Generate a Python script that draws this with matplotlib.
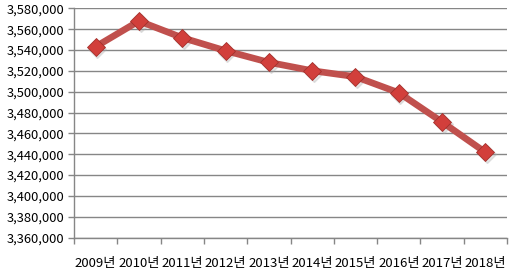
import matplotlib
matplotlib.use("Agg")
import matplotlib.pyplot as plt
from matplotlib.ticker import FuncFormatter, FixedLocator
import numpy as np

plt.rcParams['font.family'] = ['Noto Sans CJK KR', 'DejaVu Sans']

years = ["2009년", "2010년", "2011년", "2012년", "2013년", "2014년", "2015년", "2016년", "2017년", "2018년"]
values = [3543200, 3567800, 3551800, 3539300, 3528200, 3520150, 3514400, 3499050, 3471000, 3441900]
y_ticks = list(range(3360000, 3580001, 20000))

fig = plt.figure(figsize=(5.16, 2.8), dpi=100)
ax = fig.add_axes([74/516, 1-237.7/280, (507-74)/516, (237.7-8.3)/280])

x = np.arange(len(years))
# subtle marker shadow
ax.plot(x + 0.04, np.array(values) - 2000, marker='D', markersize=9, linestyle='none',
        color='#aaaaaa', alpha=0.3, zorder=2.5)
ax.plot(x, values, color='#C0504D', linewidth=4.8, solid_capstyle='round', zorder=3)
ax.plot(x, values, marker='D', markersize=9, linestyle='none',
        markerfacecolor='#D23F3B', markeredgecolor='#A3302C', markeredgewidth=0.6, zorder=4)

ax.set_xlim(-0.5, len(years) - 0.5)
ax.set_ylim(3360000, 3580000)
ax.set_yticks(y_ticks)
ax.yaxis.set_major_formatter(FuncFormatter(lambda v, p: f"{int(v):,}"))
ax.grid(axis='y', color='#868686', linewidth=1.0)
ax.set_axisbelow(True)

ax.set_xticks(x)
ax.set_xticklabels(years)
ax.xaxis.set_minor_locator(FixedLocator(np.arange(-0.5, len(years), 1.0)))
ax.tick_params(axis='x', which='major', length=0, pad=14, labelsize=9.5)
ax.tick_params(axis='x', which='minor', length=4, color='#868686', width=1)
ax.tick_params(axis='y', which='major', length=4, color='#868686', width=1, labelsize=9.3, pad=3)

for s in ['top', 'right']:
    ax.spines[s].set_visible(False)
for s in ['left', 'bottom']:
    ax.spines[s].set_color('#868686')
    ax.spines[s].set_linewidth(1)

fig.savefig("out.png", dpi=100)
